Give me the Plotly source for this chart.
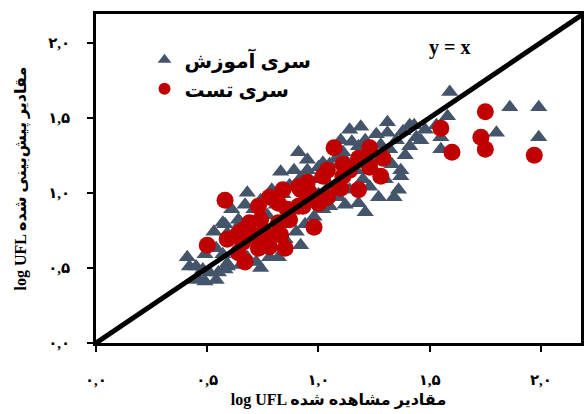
import plotly.graph_objects as go

# Training series (observed, predicted) log UFL
train_x = [0.41,0.42,0.46,0.48,0.53,0.58,0.59,0.65,0.68,0.55,0.59,0.68,0.82,0.71,0.91,0.89,0.95,1.00,1.02,1.19,
           1.31,1.37,1.34,1.31,1.41,1.11,1.18,1.23,1.27,1.18,1.05,0.98,1.09,0.57,0.64,0.68,0.60,0.45,0.51,0.59,
           0.68,0.78,0.45,1.59,1.58,1.55,1.55,1.43,1.44,1.41,1.86,1.99,1.80,1.99,1.37,0.49,0.54,0.57,0.63,0.65,
           0.72,0.75,0.77,0.81,0.84,0.87,0.92,0.96,1.01,1.05,1.08,1.12,1.15,1.21,1.26,1.28,1.32,1.35,1.38,1.39,
           1.33,1.30,1.24,1.20,1.14,1.12,1.02,0.94,0.90,0.85,0.92,0.75,0.72,0.65,0.83,0.88,0.94,1.00,1.05,1.10,
           1.17,1.23,1.28,0.74,0.79,0.83,0.95,1.10,1.14,1.46,1.48,0.61,0.67,1.53,1.36,1.21,0.58,0.49,0.54,0.74]
train_y = [0.57,0.51,0.43,0.49,0.74,0.79,0.73,0.80,1.00,0.47,0.51,0.57,0.57,0.89,1.27,1.15,1.15,1.17,1.20,1.44,
           1.40,1.11,0.97,1.47,1.45,1.27,1.31,1.04,0.97,0.93,0.91,0.84,0.97,0.80,0.82,0.77,0.69,0.51,0.47,0.53,
           0.55,0.57,0.42,1.67,1.51,1.37,1.29,1.45,1.37,1.31,1.57,1.57,1.40,1.37,1.15,0.59,0.63,0.59,0.62,0.70,
           0.69,0.77,0.85,0.92,0.99,1.05,1.10,1.09,1.12,1.19,1.23,1.22,1.34,1.35,1.39,1.32,1.29,1.35,1.41,1.25,
           1.19,1.09,1.15,1.09,1.02,0.92,0.89,0.79,0.74,0.69,0.65,0.62,0.54,0.52,0.79,0.89,0.95,0.99,1.05,1.10,
           1.15,1.22,1.22,0.95,1.02,1.14,1.22,1.35,1.42,1.35,1.42,0.89,0.92,1.45,1.02,0.87,0.49,0.41,0.42,0.50]

# Test series
test_x = [0.50,0.58,0.73,0.64,0.64,0.73,0.78,0.85,0.98,1.07,1.23,1.28,1.29,1.18,1.09,1.00,0.84,0.91,0.95,1.04,
          1.11,1.18,1.02,0.78,0.82,0.74,0.82,0.87,0.93,0.69,0.66,0.75,0.83,0.66,0.71,0.78,0.96,1.23,1.20,1.11,
          1.04,0.91,0.86,1.55,1.60,1.75,1.73,1.75,1.97,0.92,1.01,1.10,0.67,0.59,1.14]
test_y = [0.65,0.95,0.91,0.73,0.60,0.63,0.64,0.63,0.77,1.30,1.30,1.11,1.23,1.02,1.04,0.93,1.02,1.04,1.07,1.15,
          1.19,1.23,1.11,0.97,0.93,0.82,0.80,0.82,0.91,0.80,0.75,0.73,0.72,0.67,0.71,0.71,1.00,1.17,1.22,1.11,
          0.97,0.91,0.89,1.43,1.27,1.54,1.37,1.29,1.25,1.02,0.95,1.03,0.54,0.69,1.15]

line_vals = [0.0, 2.2]
tick_vals = [0.0, 0.5, 1.0, 1.5, 2.0]
tick_text = ["۰,۰", "۰,۵", "۱,۰", "۱,۵", "۲,۰"]

FONT = "Liberation Serif, DejaVu Sans, serif"

fig = go.Figure()
fig.add_trace(go.Scatter(x=train_x, y=train_y, mode="markers", name="سری آموزش",
                         marker=dict(symbol="triangle-up", size=15, color="#44546A")))
fig.add_trace(go.Scatter(x=test_x, y=test_y, mode="markers", name="سری تست",
                         marker=dict(symbol="circle", size=17, color="#C00000")))
fig.add_trace(go.Scatter(x=line_vals, y=line_vals, mode="lines", showlegend=False,
                         line=dict(color="black", width=5)))

fig.add_annotation(x=1.59, y=1.97, text="<b>y = x</b>", showarrow=False,
                   font=dict(family=FONT, size=20, color="black"))

axis_common = dict(tickvals=tick_vals, ticktext=tick_text, showgrid=False, zeroline=False,
                   showline=True, linecolor="black", linewidth=2.5, mirror=True,
                   ticks="outside", ticklen=6, tickwidth=2, tickcolor="black", automargin=False,
                   tickfont=dict(family=FONT, size=15, color="black", weight="bold"))

fig.update_layout(
    width=584, height=414,
    margin=dict(l=96, r=3, t=14, b=71),
    plot_bgcolor="white", paper_bgcolor="white",
    xaxis=dict(range=[0, 2.18], ticklabelstandoff=15,
               title=dict(text="log UFL مقادیر مشاهده شده", standoff=8,
                          font=dict(family=FONT, size=16, color="black", weight="bold")),
               **axis_common),
    yaxis=dict(range=[0, 2.19], ticklabelstandoff=14,
               title=dict(text="log UFL مقادیر پیش‌بینی شده", standoff=18,
                          font=dict(family=FONT, size=16, color="black", weight="bold")),
               **axis_common),
    legend=dict(x=0.1, y=0.92, xanchor="left", yanchor="top", bgcolor="rgba(0,0,0,0)",
                font=dict(family=FONT, size=20, color="black", weight="bold"),
                itemsizing="constant", tracegroupgap=0),
)

fig.write_html("out.html", config={"displayModeBar": False},
               post_script="document.body.style.margin='0';")
